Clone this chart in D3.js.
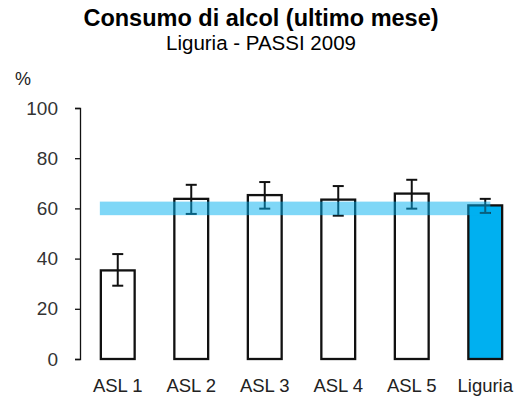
<!DOCTYPE html>
<html>
<head>
<meta charset="utf-8">
<script src="https://cdn.jsdelivr.net/npm/d3@7"></script>
<style>
  html, body { margin: 0; padding: 0; background: #fff; }
  svg { display: block; font-family: "Liberation Sans", Arial, sans-serif; }
</style>
</head>
<body>
<svg id="chart" width="529" height="407"></svg>
<script>
// Alcohol consumption (last month), PASSI 2009, by local health unit
const categories = ["ASL 1", "ASL 2", "ASL 3", "ASL 4", "ASL 5", "Liguria"];
const values     = [35.3, 63.8, 65.3, 63.5, 65.9, 61.2];
const lowerCI    = [29.2, 57.8, 59.9, 57.1, 59.9, 58.2];
const upperCI    = [41.8, 69.4, 70.5, 68.9, 71.4, 63.8];
const yTicks     = [0, 20, 40, 60, 80, 100];
const regionalRef = 60;   // regional reference level shown as a band

const svg = d3.select("#chart");

const x = d3.scaleBand()
  .domain(categories)
  .range([81, 522])
  .paddingInner(0.54)
  .paddingOuter(0.27);

const y = d3.scaleLinear().domain([0, 100]).range([359, 108]);

// Titles
svg.append("text")
  .attr("x", 261).attr("y", 26)
  .attr("text-anchor", "middle")
  .attr("font-size", 23.5).attr("font-weight", "bold")
  .text("Consumo di alcol (ultimo mese)");
svg.append("text")
  .attr("x", 261).attr("y", 50)
  .attr("text-anchor", "middle")
  .attr("font-size", 20.5)
  .text("Liguria - PASSI 2009");

svg.append("text")
  .attr("x", 15).attr("y", 85)
  .attr("font-size", 18).attr("fill", "#222")
  .text("%");

// Y axis
const yAxis = d3.axisLeft(y).tickValues(yTicks).tickSize(5).tickPadding(17);
const gy = svg.append("g").attr("transform", "translate(80,0)").call(yAxis);
gy.select(".domain").attr("stroke", "#111").attr("stroke-width", 1.3);
gy.selectAll(".tick line").attr("stroke", "#111").attr("stroke-width", 1.3);
gy.selectAll(".tick text")
  .attr("font-size", 19).attr("fill", "#333")
  .attr("font-family", "Liberation Sans, Arial, sans-serif");

// X labels (no axis line)
const xAxis = d3.axisBottom(x).tickSize(0).tickPadding(0);
const gx = svg.append("g").attr("transform", "translate(0,377)").call(xAxis);
gx.select(".domain").remove();
gx.selectAll(".tick text")
  .attr("dy", 0).attr("y", 15)
  .attr("font-size", 18.5).attr("fill", "#222")
  .attr("font-family", "Liberation Sans, Arial, sans-serif");

// Bars
svg.append("g").selectAll("rect")
  .data(categories)
  .join("rect")
  .attr("x", d => x(d))
  .attr("y", (d, i) => y(values[i]))
  .attr("width", x.bandwidth())
  .attr("height", (d, i) => y(0) - y(values[i]))
  .attr("fill", d => d === "Liguria" ? "#00b0f0" : "#fff")
  .attr("stroke", "#111")
  .attr("stroke-width", 2.3);

// Confidence intervals
const eb = svg.append("g").attr("stroke", "#111").attr("stroke-width", 2);
categories.forEach((c, i) => {
  const cx = x(c) + x.bandwidth() / 2;
  eb.append("line").attr("x1", cx).attr("x2", cx)
    .attr("y1", y(lowerCI[i])).attr("y2", y(upperCI[i]));
  [lowerCI[i], upperCI[i]].forEach(v => {
    eb.append("line").attr("x1", cx - 5.5).attr("x2", cx + 5.5)
      .attr("y1", y(v)).attr("y2", y(v));
  });
});

// Regional reference band
const bandHalf = (y(0) - y(2.7));
const last = categories[categories.length - 1];
svg.append("rect")
  .attr("x", x(categories[0]) - 1)
  .attr("y", y(regionalRef) - bandHalf)
  .attr("width", x(last) + x.bandwidth() * 0.65 - x(categories[0]) + 1)
  .attr("height", bandHalf * 2)
  .attr("fill", "#00b0f0")
  .attr("fill-opacity", 0.5);
</script>
</body>
</html>
